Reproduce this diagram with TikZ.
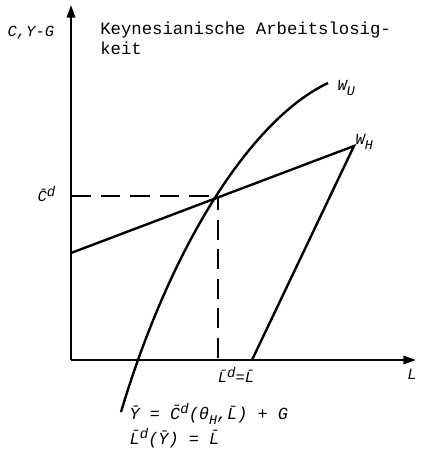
\documentclass[tikz,border=0pt]{standalone}
\usepackage{fontspec}
\setmainfont{Liberation Mono}
\usepackage{tikz}
\usetikzlibrary{positioning,arrows.meta,calc}
\definecolor{ink}{HTML}{000000}
\newcommand{\lo}[1]{\raisebox{-0.55ex}{\fontsize{9.5}{10}\selectfont #1}}
\newcommand{\hi}[1]{\raisebox{0.6ex}{\fontsize{10}{10}\selectfont #1}}

\begin{document}
\begin{tikzpicture}[
  x=0.025cm, y=-0.025cm,
  font=\fontsize{11}{13}\selectfont,
  ax/.style={draw=ink, line width=1.5pt, -{Triangle[length=9pt,width=6pt]}},
  crv/.style={draw=ink, line width=1.7pt},
  dsh/.style={draw=ink, line width=1.5pt, dash pattern=on 14pt off 7pt},
  lbl/.style={text=ink, inner sep=1pt, font=\fontsize{11}{13}\selectfont\itshape}]
\useasboundingbox (0,0) rectangle (424,464);
% axes
\coordinate (o) at (71,360);
\coordinate (ytop) at (71,5);
\coordinate (xend) at (416,360);
\draw[ax] (o) -- (ytop);
\draw[ax] (o) -- (xend);
% curves
\coordinate (wu0) at (121,412);
\coordinate (wu1) at (328,83);
\coordinate (wh0) at (71,253);
\coordinate (wh1) at (354,146);
\coordinate (wh2) at (252,360);
\coordinate (eq) at (218,196);
\draw[crv] (wu0) .. controls (170,248) and (250,120) .. (wu1);
\draw[crv] (wh0) -- (wh1) -- (wh2);
% equilibrium
\draw[dsh] (o |- eq) -- (eq);
\draw[dsh, dash phase=4pt] (eq) -- (eq |- o);
% labels
\node[lbl, anchor=west] (cy) at (6,33) {C,Y-G};
\node[anchor=north west, align=left, inner sep=0pt, font=\fontsize{12.3}{14}\selectfont] (ttl) at (100,22)
  {Keynesianische Arbeitslosig-\\keit};
\node[lbl, anchor=west] (lwu) at (336,88) {W\lo{U}};
\node[lbl, anchor=west] (lwh) at (354,142) {W\lo{H}};
\node[lbl, anchor=west] (cd) at (36,194) {\={C}\hi{d}};
\node[lbl, anchor=north] (ld) at (236,366) {\={L}\hi{d}=\={L}};
\node[lbl, anchor=north] (ll) at (412,368) {L};
\node[lbl, anchor=west, font=\fontsize{12}{14}\selectfont\itshape] (eqa) at (128,414)
  {\={Y} = \={C}\hi{d}(θ\lo{H},\={L}) + G};
\node[lbl, anchor=west, font=\fontsize{12}{14}\selectfont\itshape] (eqb) at (128,438)
  {\={L}\hi{d}(\={Y}) = \={L}};
\end{tikzpicture}
\end{document}
